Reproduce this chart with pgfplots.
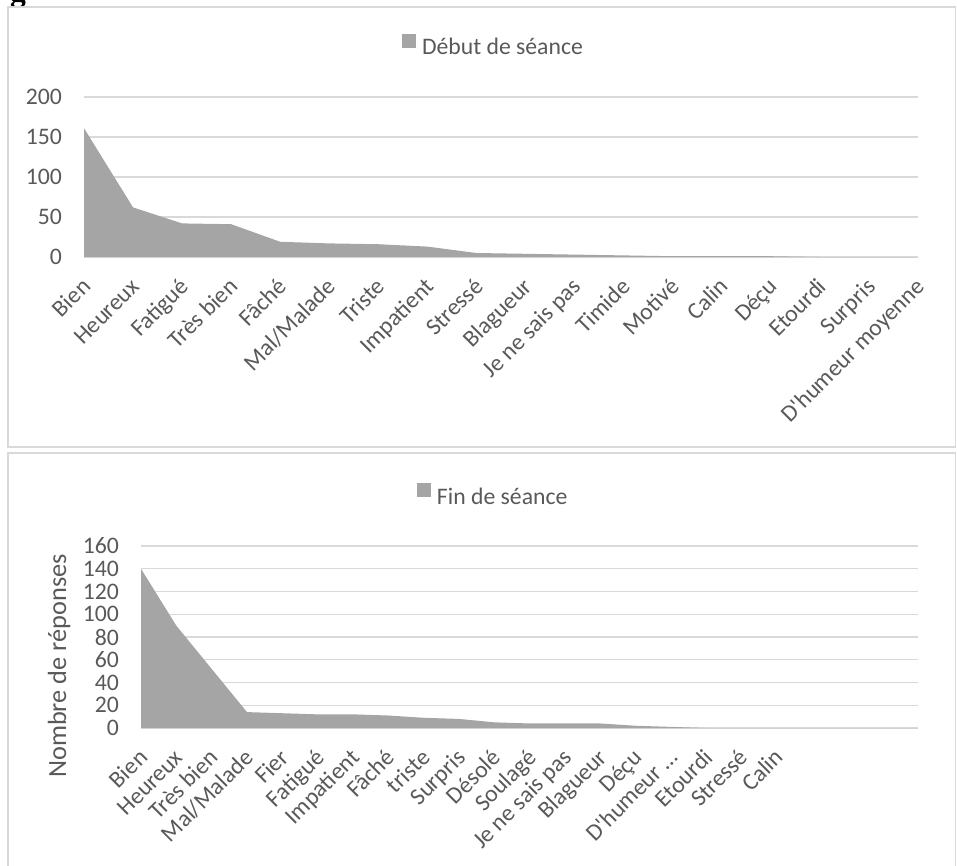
\documentclass[border=0pt]{standalone}
\usepackage{fontspec}
\setmainfont{Carlito}
\newfontfamily\capfont{Liberation Serif}
\usepackage{pgfplots}
\pgfplotsset{compat=1.18}
\definecolor{txt}{HTML}{595959}
\definecolor{areafill}{HTML}{A5A5A5}
\definecolor{gridc}{HTML}{D9D9D9}
\pgfplotsset{
  excelarea/.style={
    scale only axis,
    axis line style={draw=none},
    major tick length=0pt,
    tick style={draw=none},
    ymajorgrids,
    grid style={gridc, line width=1.3pt},
    ticklabel style={font=\fontsize{23.7}{28}\selectfont, text=txt, inner sep=0pt},
    yticklabel style={anchor=east, xshift=-22pt},
    xticklabel style={anchor=base east, xshift=8pt, yshift=-31pt, rotate=45},
    /pgf/number format/assume math mode=true,
    xtick=data,
    enlargelimits=false,
    clip=false,
    legend style={draw=none, fill=none, inner sep=0pt, outer sep=0pt,
      nodes={inner sep=0pt, text=txt, font=\fontsize{23.7}{28}\selectfont},
      column sep=6pt},
    legend image code/.code={\fill[areafill] (0pt,0pt) rectangle (14pt,14pt);},
  }
}
\begin{document}
\begin{tikzpicture}[x=1pt,y=1pt]
\node[anchor=base west, inner sep=0pt, font=\capfont\bfseries\fontsize{31.6}{36}\selectfont] at (10,-1) {g};
\draw[gridc, line width=1.2pt] (8,-7) rectangle (955.5,-447);
\draw[gridc, line width=1.2pt] (8,-453) rectangle (955.5,-880);

\begin{axis}[excelarea,
  at={(84pt,-257pt)}, anchor=south west,
  width=834pt, height=160pt,
  xmin=0, xmax=17, ymin=0, ymax=200,
  ytick={0,50,100,150,200},
  xticklabels={Bien,Heureux,Fatigué,Très bien,Fâché,Mal/Malade,Triste,Impatient,Stressé,Blagueur,Je ne sais pas,Timide,Motivé,Calin,Déçu,Etourdi,Surpris,D\textquotesingle humeur moyenne},
  legend style={at={(rel axis cs:0.3813,1.325)}, anchor=west},
]
\addplot[fill=areafill, draw=none] coordinates {
(0,161) (1,62) (2,42) (3,41) (4,19) (5,17) (6,16) (7,13) (8,5) (9,4)
(10,3) (11,2) (12,1) (13,1) (14,1) (15,0) (16,0) (17,0)} \closedcycle;
\addlegendentry{Début de séance}
\end{axis}

\begin{axis}[excelarea,
  at={(141pt,-728pt)}, anchor=south west,
  width=777pt, height=182pt,
  xmin=0, xmax=22, ymin=0, ymax=160,
  ytick={0,20,40,60,80,100,120,140,160},
  xticklabels={Bien,Heureux,Très bien,Mal/Malade,Fier,Fatigué,Impatient,Fâché,triste,Surpris,Désolé,Soulagé,Je ne sais pas,Blagueur,Déçu,D\textquotesingle humeur …,Etourdi,Stressé,Calin,{},{},{},{}},
  ylabel={Nombre de réponses},
  ylabel style={at={(rel axis cs:-0.0965,0.3407)}, anchor=base,
    font=\fontsize{26.3}{30}\selectfont, text=txt, inner sep=0pt},
  legend style={at={(rel axis cs:0.3552,1.2857)}, anchor=west},
]
\addplot[fill=areafill, draw=none] coordinates {
(0,140) (1,90) (2,52) (3,14) (4,13) (5,12) (6,12) (7,11) (8,9) (9,8)
(10,5) (11,4) (12,4) (13,4) (14,2) (15,1) (16,0) (17,0) (18,0)
(19,0) (20,0) (21,0) (22,0)} \closedcycle;
\addlegendentry{Fin de séance}
\end{axis}
\pgfresetboundingbox
\useasboundingbox (0pt,0pt) rectangle (957pt,-865pt);
\end{tikzpicture}
\end{document}
